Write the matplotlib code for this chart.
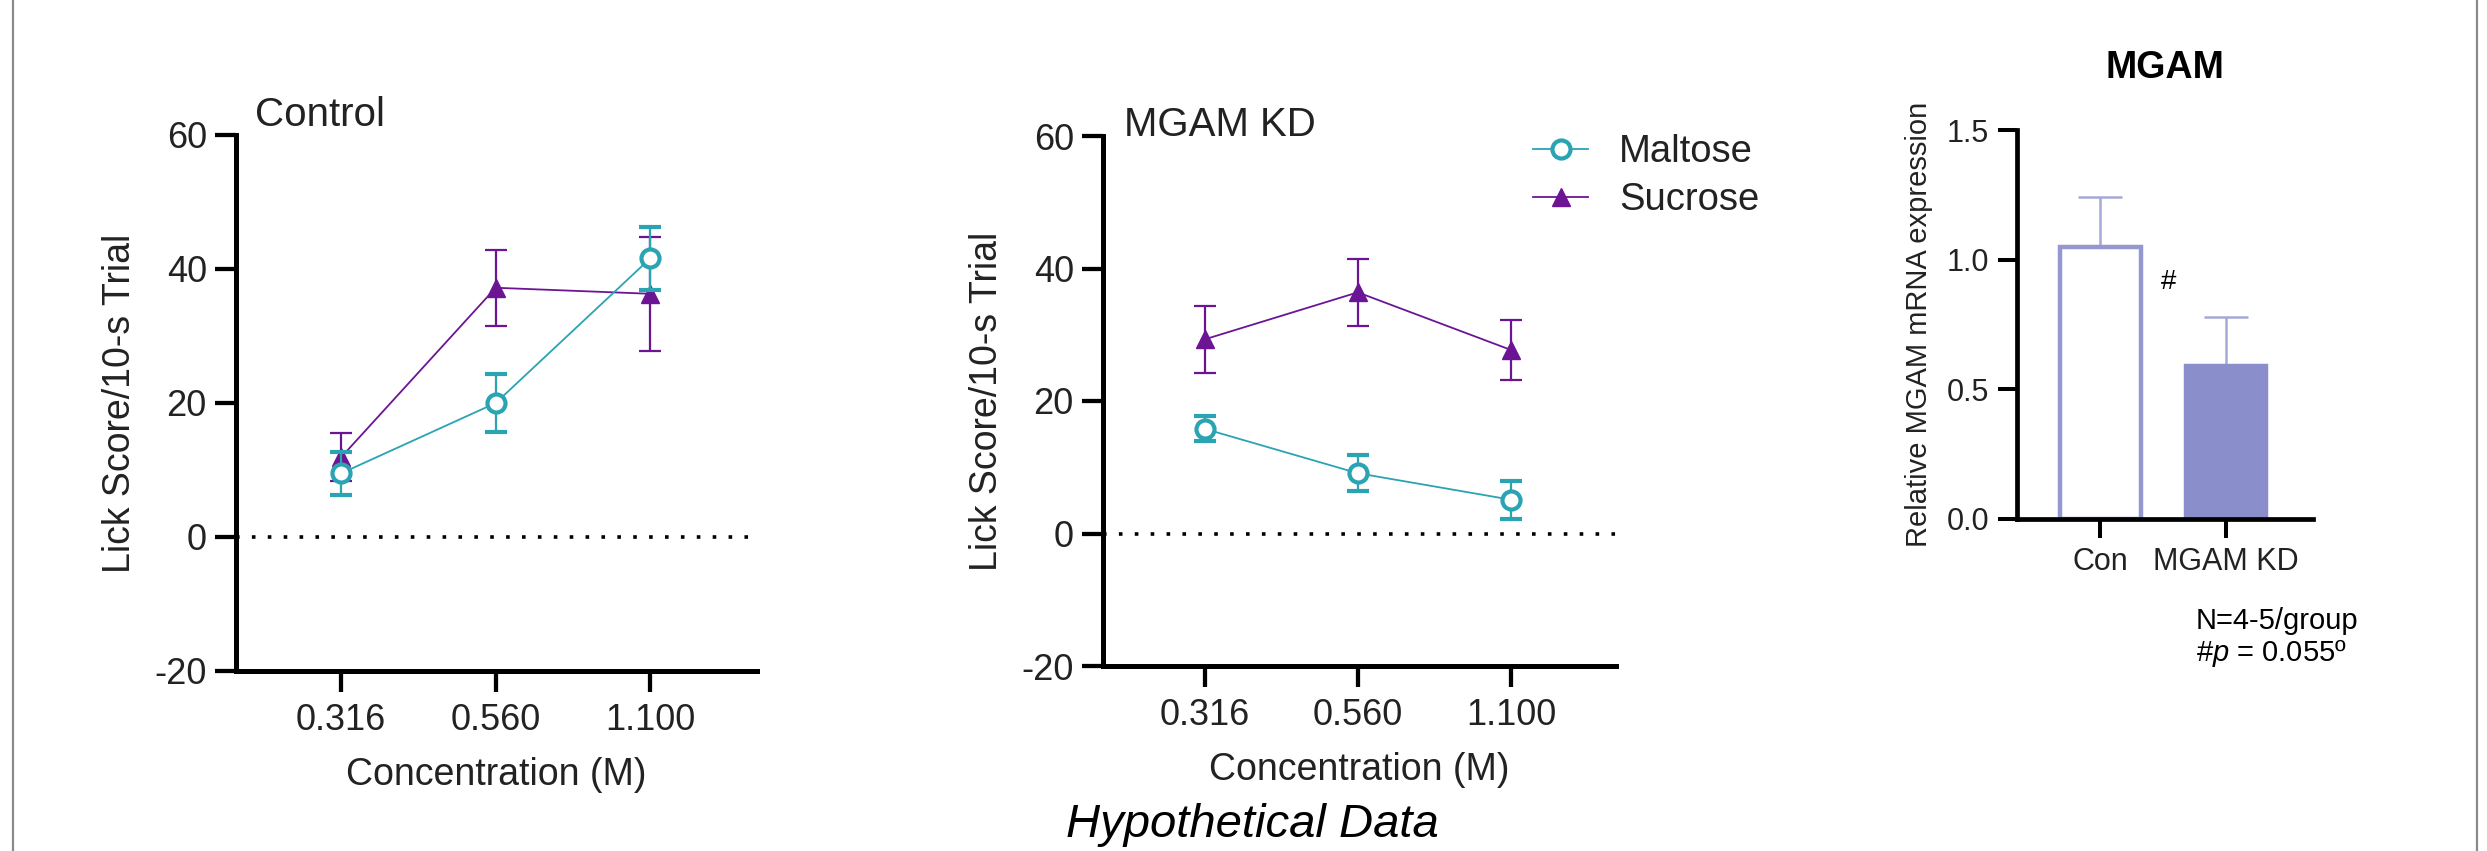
import matplotlib
matplotlib.use("Agg")
import matplotlib.pyplot as plt
from matplotlib.lines import Line2D
import numpy as np

plt.rcParams['font.family'] = ['Liberation Sans', 'DejaVu Sans']
plt.rcParams['mathtext.fontset'] = 'custom'
plt.rcParams['mathtext.rm'] = 'Liberation Sans'
plt.rcParams['mathtext.it'] = 'Liberation Sans:italic'
plt.rcParams['axes.unicode_minus'] = False

# ---------------- data ----------------
conc_labels = ['0.316', '0.560', '1.100']
ctrl_maltose = [9.5, 20.0, 41.6]
ctrl_maltose_sem = [3.2, 4.4, 4.7]
ctrl_sucrose = [11.9, 37.2, 36.3]
ctrl_sucrose_sem = [3.6, 5.7, 8.5]
kd_maltose = [15.8, 9.1, 5.1]
kd_maltose_sem = [1.9, 2.7, 2.9]
kd_sucrose = [29.3, 36.4, 27.7]
kd_sucrose_sem = [5.1, 5.1, 4.5]
mrna_groups = ['Con', 'MGAM KD']
mrna_mean = [1.05, 0.59]
mrna_sem = [0.19, 0.19]

TEAL = '#2aa3b3'
PURPLE = '#6b1595'
BAR = '#8a8fcb'
BAR_EDGE = '#9498cf'
ERR_BAR = '#a6a9d6'
TXT = '#222222'

W, H = 2487, 851
fig = plt.figure(figsize=(W / 100, H / 100), dpi=100)
fig.patch.set_facecolor('white')


def frac(x0, x1, ytop, ybot):
    return [x0 / W, 1 - ybot / H, (x1 - x0) / W, (ybot - ytop) / H]


def style_axes(ax, lw=3.6, tlen=15, fs=26):
    for s in ['top', 'right']:
        ax.spines[s].set_visible(False)
    for s in ['left', 'bottom']:
        ax.spines[s].set_linewidth(lw)
        ax.spines[s].set_color('black')
    ax.tick_params(axis='both', width=lw * 0.85, length=tlen, labelsize=fs,
                   labelcolor=TXT, color='black')
    ax.tick_params(axis='y', pad=6)
    ax.tick_params(axis='x', pad=8)


MALT_STYLE = dict(color=TEAL, lw=1.3, marker='o', markersize=13,
                  mfc='white', mec=TEAL, mew=3.0)
SUC_STYLE = dict(color=PURPLE, lw=1.3, marker='^', markersize=13,
                 mfc=PURPLE, mec=PURPLE)


def lick_panel(ax, malt, malt_e, suc, suc_e, xlim):
    x = np.arange(len(conc_labels))
    ax.axhline(0, color='black', linestyle=(0, (1, 3.4)), linewidth=2.6,
               zorder=1)
    ax.errorbar(x, suc, yerr=suc_e, capsize=8, elinewidth=1.6,
                capthick=1.6, zorder=3, **SUC_STYLE)
    ax.errorbar(x, malt, yerr=malt_e, capsize=8, elinewidth=1.6,
                capthick=1.6, zorder=4, **MALT_STYLE)
    ax.set_xlim(*xlim)
    ax.set_ylim(-20, 60)
    ax.set_yticks([-20, 0, 20, 40, 60])
    ax.set_xticks(x)
    ax.set_xticklabels(conc_labels)
    ax.set_xlabel('Concentration (M)', fontsize=27, color=TXT, labelpad=14)
    ax.set_ylabel('Lick Score/10-s Trial', fontsize=27, color=TXT,
                  labelpad=12)
    style_axes(ax)


# Panel 1 : Control
ax1 = fig.add_axes(frac(236, 757, 135, 671))
lick_panel(ax1, ctrl_maltose, ctrl_maltose_sem, ctrl_sucrose,
           ctrl_sucrose_sem, (-0.68, 2.69))
fig.text(255 / W, 1 - 115 / H, 'Control', fontsize=29, color=TXT,
         ha='left', va='center')

# Panel 2 : MGAM KD
ax2 = fig.add_axes(frac(1103, 1616, 136, 666))
lick_panel(ax2, kd_maltose, kd_maltose_sem, kd_sucrose, kd_sucrose_sem,
           (-0.663, 2.685))
fig.text(1124 / W, 1 - 125 / H, 'MGAM KD', fontsize=29, color=TXT,
         ha='left', va='center')

handles = [Line2D([], [], **MALT_STYLE), Line2D([], [], **SUC_STYLE)]
leg = fig.legend(handles, ['Maltose', 'Sucrose'],
                 loc='upper left', bbox_to_anchor=(1533 / W, 1 - 134 / H),
                 frameon=False, fontsize=27.5, handlelength=1.45,
                 handletextpad=0.8, labelspacing=0.32, borderpad=0,
                 borderaxespad=0)
for t in leg.get_texts():
    t.set_color(TXT)

# Panel 3 : MGAM mRNA
ax3 = fig.add_axes(frac(2017, 2313, 130, 519))
xb = np.arange(len(mrna_groups))
ax3.errorbar(xb, mrna_mean, yerr=[[0, 0], mrna_sem], fmt='none',
             ecolor=ERR_BAR, elinewidth=1.8, capsize=16, capthick=1.8,
             zorder=1)
ax3.bar(xb, mrna_mean, width=0.64, color=['white', BAR],
        edgecolor=[BAR_EDGE, BAR], linewidth=3.2, zorder=2)
ax3.set_xlim(-0.662, 1.69)
ax3.set_ylim(0, 1.5)
ax3.set_yticks([0.0, 0.5, 1.0, 1.5])
ax3.set_yticklabels(['0.0', '0.5', '1.0', '1.5'])
ax3.set_xticks(xb)
ax3.set_xticklabels(mrna_groups)
style_axes(ax3, lw=3.4, tlen=14, fs=22)
ax3.tick_params(axis='x', pad=6)
ax3.set_ylabel('Relative MGAM mRNA expression', fontsize=21, color=TXT,
               labelpad=10)
fig.text(2165 / W, 1 - 68 / H, 'MGAM', fontsize=27, fontweight='bold',
         color='black', ha='center', va='center')
fig.text(2169 / W, 1 - 282 / H, '#', fontsize=20, color='black',
         ha='center', va='center')

fig.text(2196 / W, 1 - 621 / H, 'N=4-5/group', fontsize=21, color='black',
         ha='left', va='center')
fig.text(2196 / W, 1 - 653 / H, r'#$\it{p}$ = 0.055º', fontsize=21,
         color='black', ha='left', va='center')

fig.text(1252 / W, 4 / H, 'Hypothetical Data', fontsize=34,
         style='italic', color='black', ha='center', va='bottom')

# frame lines
for xf in (13, 2477):
    fig.add_artist(Line2D([xf / W, xf / W], [0, 1], transform=fig.transFigure,
                          color='#8a8a8a', lw=1.6))

fig.savefig('out.png', dpi=100, facecolor='white')
